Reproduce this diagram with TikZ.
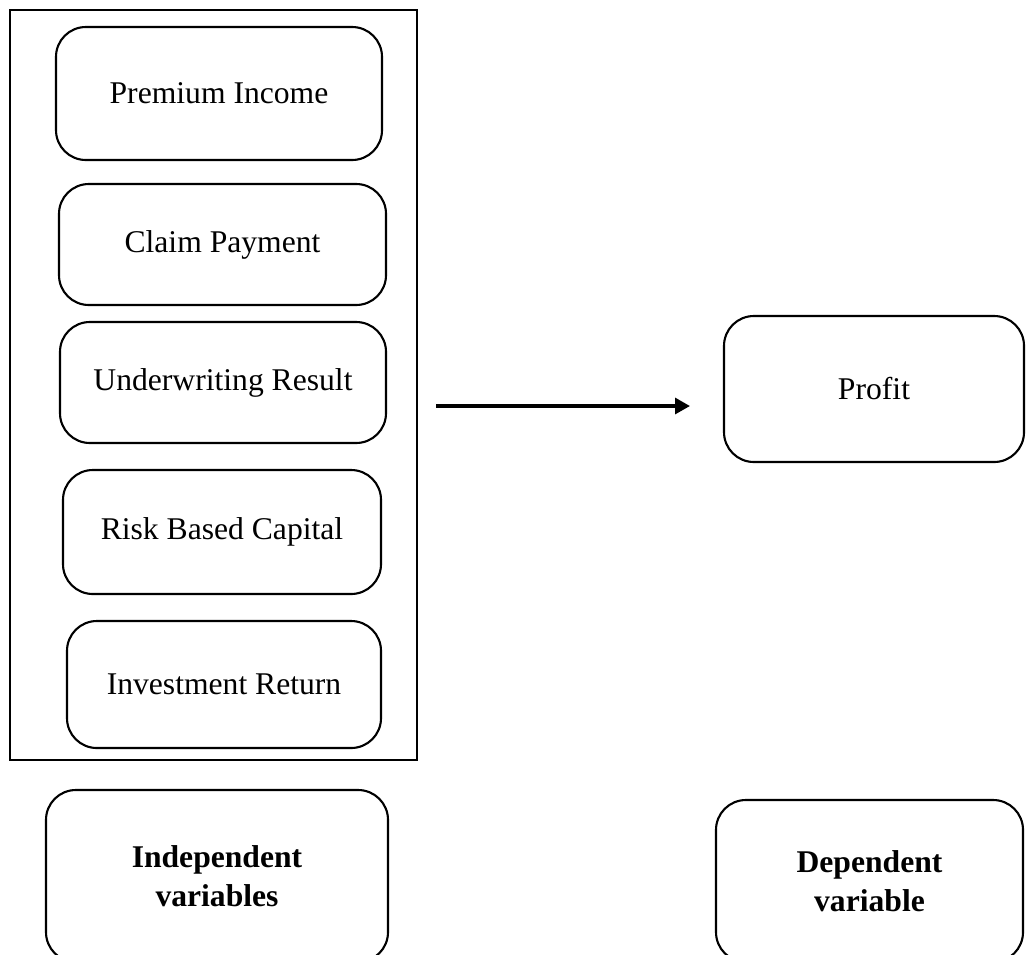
\documentclass[tikz,border=0pt]{standalone}
\usepackage{fontspec}
\setmainfont{Liberation Serif}
\usepackage{tikz}
\usetikzlibrary{arrows.meta}

\tikzset{
    varbox/.style={draw, line width=1.2pt, rounded corners=17pt, align=center,
        font=\fontsize{18}{22}\selectfont},
}

\begin{document}
\begin{tikzpicture}[x=0.02cm,y=-0.02cm]
        \clip (0,0) rectangle (1026,954);

        \draw[line width=1.2pt] (10,10) rectangle (417,760);

        \node[varbox, minimum width=326*0.02cm, minimum height=133*0.02cm] (pi) at (219,93.5) {Premium Income};
        \node[varbox, minimum width=327*0.02cm, minimum height=121*0.02cm] (cp) at (222.5,244.5) {Claim Payment};
        \node[varbox, minimum width=326*0.02cm, minimum height=121*0.02cm] (ur) at (223,382.5) {Underwriting Result};
        \node[varbox, minimum width=318*0.02cm, minimum height=124*0.02cm] (rbc) at (222,532) {Risk Based Capital};
        \node[varbox, minimum width=314*0.02cm, minimum height=127*0.02cm] (ir) at (224,684.5) {Investment Return};

        \node[varbox, minimum width=300*0.02cm, minimum height=146*0.02cm] (profit) at (874,389) {Profit};

        \node[varbox, minimum width=342*0.02cm, minimum height=172*0.02cm] (indep) at (217,876) {\textbf{Independent}\\\textbf{variables}};
        \node[varbox, minimum width=307*0.02cm, minimum height=162*0.02cm] (dep) at (869.5,881) {\textbf{Dependent}\\\textbf{variable}};

        \coordinate (from) at (436,406);
        \coordinate (to) at (690,406);
        \draw[line width=2pt, -{Triangle[length=8.5pt,width=9pt]}] (from) -- (to);
    \end{tikzpicture}
\end{document}
